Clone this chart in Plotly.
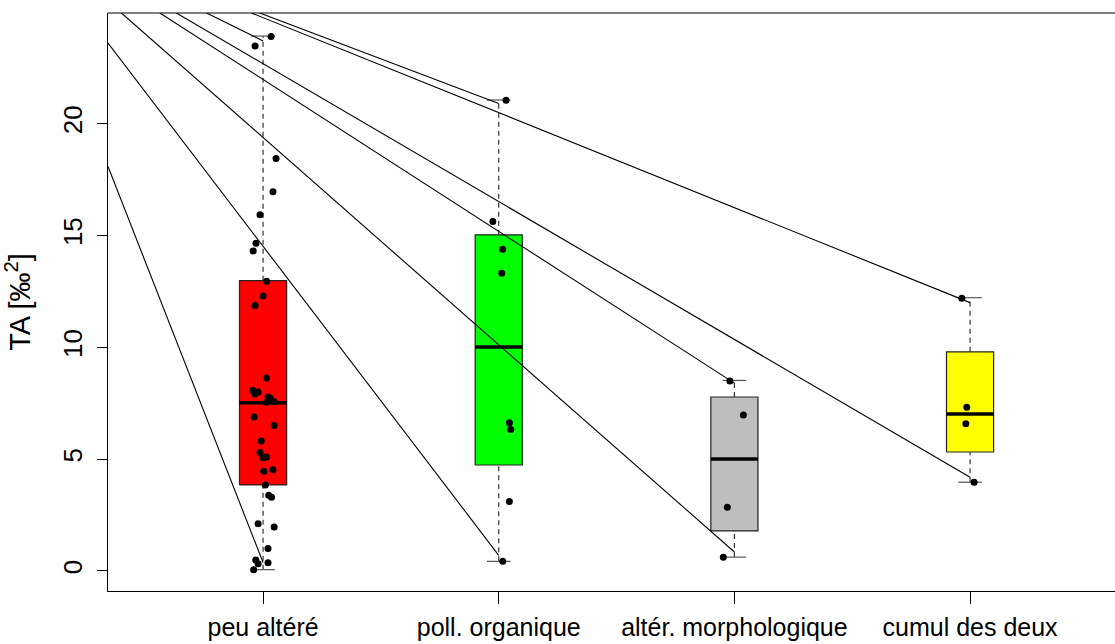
import plotly.graph_objects as go

# ---------------- data ----------------
categories = ["peu altéré", "poll. organique", "altér. morphologique", "cumul des deux"]
positions = [1, 2, 3, 4]
box_colors = ["#FF0000", "#00FF00", "#BEBEBE", "#FFFF00"]

q1 = [3.85, 4.74, 1.79, 5.32]
medians = [7.52, 10.02, 5.01, 7.02]
q3 = [12.98, 15.03, 7.78, 9.80]
whisker_lo = [0.06, 0.43, 0.62, 3.97]
whisker_hi = [23.92, 21.06, 8.52, 12.22]

peu_vals = [23.90, 23.47, 18.44, 16.96, 15.93, 14.65, 14.31, 12.95, 12.30, 11.87,
            8.63, 8.08, 7.91, 8.00, 7.78, 7.74, 7.54, 7.57, 6.89, 6.50,
            5.81, 5.30, 5.06, 5.10, 4.46, 4.53, 3.85, 3.39, 3.30, 2.11,
            1.97, 1.00, 0.49, 0.32, 0.37, 0.06]
peu_jitter = [0.034, -0.034, 0.055, 0.042, -0.013, -0.030, -0.042, 0.015, 0.0, -0.034,
              0.014, -0.044, -0.034, -0.021, 0.021, 0.030, 0.015, 0.047, -0.038, 0.047,
              -0.008, -0.013, 0.0, 0.014, 0.003, 0.042, 0.010, 0.024, 0.036, -0.021,
              0.047, 0.021, -0.031, -0.021, 0.021, -0.040]
poll_vals = [21.05, 15.63, 14.39, 13.31, 6.63, 6.33, 3.11, 0.43]
poll_jitter = [0.031, -0.025, 0.017, 0.013, 0.045, 0.051, 0.045, 0.017]
alter_vals = [8.50, 6.98, 2.85, 0.61]
alter_jitter = [-0.019, 0.038, -0.030, -0.047]
cumul_vals = [12.20, 7.32, 6.58, 3.97]
cumul_jitter = [-0.035, -0.014, -0.018, 0.017]

point_vals = [peu_vals, poll_vals, alter_vals, cumul_vals]
point_jitter = [peu_jitter, poll_jitter, alter_jitter, cumul_jitter]

# stray segments (start off-plot at upper left, end near whisker ends)
seg_x0 = [0.760, 0.342, 0.986, 0.342, 0.562, 0.399, 0.951, 0.632]
seg_y0 = [24.95, 18.09, 24.95, 23.61, 24.95, 24.95, 24.95, 24.95]
seg_x1 = [1, 1, 2, 2, 3, 3, 4, 4]
seg_y1 = [23.7, 0.38, 20.9, 0.70, 8.4, 0.85, 12.0, 4.19]

y_ticks = [0, 5, 10, 15, 20]
x_range = [0.342, 4.615]
y_range = [-0.895, 24.95]

# ---------------- style ----------------
BOX_HALF = 0.10
STAPLE_HALF = 0.05
FONT = "Liberation Sans, Arial, Helvetica, sans-serif"

fig = go.Figure()

# boxes
for p, c, lo, hi in zip(positions, box_colors, q1, q3):
    fig.add_trace(go.Scatter(
        x=[p - BOX_HALF, p + BOX_HALF, p + BOX_HALF, p - BOX_HALF, p - BOX_HALF],
        y=[lo, lo, hi, hi, lo],
        mode="lines", fill="toself", fillcolor=c,
        line=dict(color="#222222", width=1.2),
        hoverinfo="skip", showlegend=False))

# whiskers (dashed) and staples
for p, lo, hi, a, b in zip(positions, whisker_lo, whisker_hi, q1, q3):
    fig.add_trace(go.Scatter(
        x=[p, p, None, p, p], y=[lo, a, None, b, hi],
        mode="lines", line=dict(color="#333333", width=1.2, dash="5px,4px"),
        hoverinfo="skip", showlegend=False))
    fig.add_trace(go.Scatter(
        x=[p - STAPLE_HALF, p + STAPLE_HALF, None, p - STAPLE_HALF, p + STAPLE_HALF],
        y=[lo, lo, None, hi, hi],
        mode="lines", line=dict(color="#555555", width=1.2),
        hoverinfo="skip", showlegend=False))

# medians
for p, m in zip(positions, medians):
    fig.add_trace(go.Scatter(
        x=[p - BOX_HALF, p + BOX_HALF], y=[m, m],
        mode="lines", line=dict(color="black", width=3.5),
        hoverinfo="skip", showlegend=False))

# stray segments
for xa, ya, xb, yb in zip(seg_x0, seg_y0, seg_x1, seg_y1):
    fig.add_trace(go.Scatter(
        x=[xa, xb], y=[ya, yb], mode="lines",
        line=dict(color="black", width=1.1),
        hoverinfo="skip", showlegend=False))

# jittered points
for p, vals, jit in zip(positions, point_vals, point_jitter):
    fig.add_trace(go.Scatter(
        x=[p + j for j in jit], y=vals, mode="markers",
        marker=dict(color="black", size=7, line=dict(width=0)),
        cliponaxis=False, hoverinfo="skip", showlegend=False))

fig.update_layout(
    width=1115, height=644,
    margin=dict(l=108, r=0, t=13, b=53),
    plot_bgcolor="white", paper_bgcolor="white",
    font=dict(family=FONT, size=25, color="black"),
    xaxis=dict(range=x_range, tickvals=positions, ticktext=categories,
               ticks="outside", ticklen=12, tickcolor="black", tickwidth=1,
               showline=True, linecolor="black", linewidth=1,
               showgrid=False, zeroline=False, ticklabelstandoff=2,
               tickfont=dict(size=25)),
    yaxis=dict(range=y_range, tickvals=y_ticks,
               ticks="outside", ticklen=10, tickcolor="black", tickwidth=1,
               tickangle=-90, ticklabelstandoff=5,
               showline=True, linecolor="black", linewidth=1,
               showgrid=False, zeroline=False,
               tickfont=dict(size=26),
               title=dict(text="TA [‰<sup>2</sup>]", font=dict(size=29), standoff=18)),
    shapes=[dict(type="line", xref="paper", yref="paper", x0=0, x1=1, y0=1, y1=1,
                 line=dict(color="black", width=1))],
)

fig.write_html("out.html")
